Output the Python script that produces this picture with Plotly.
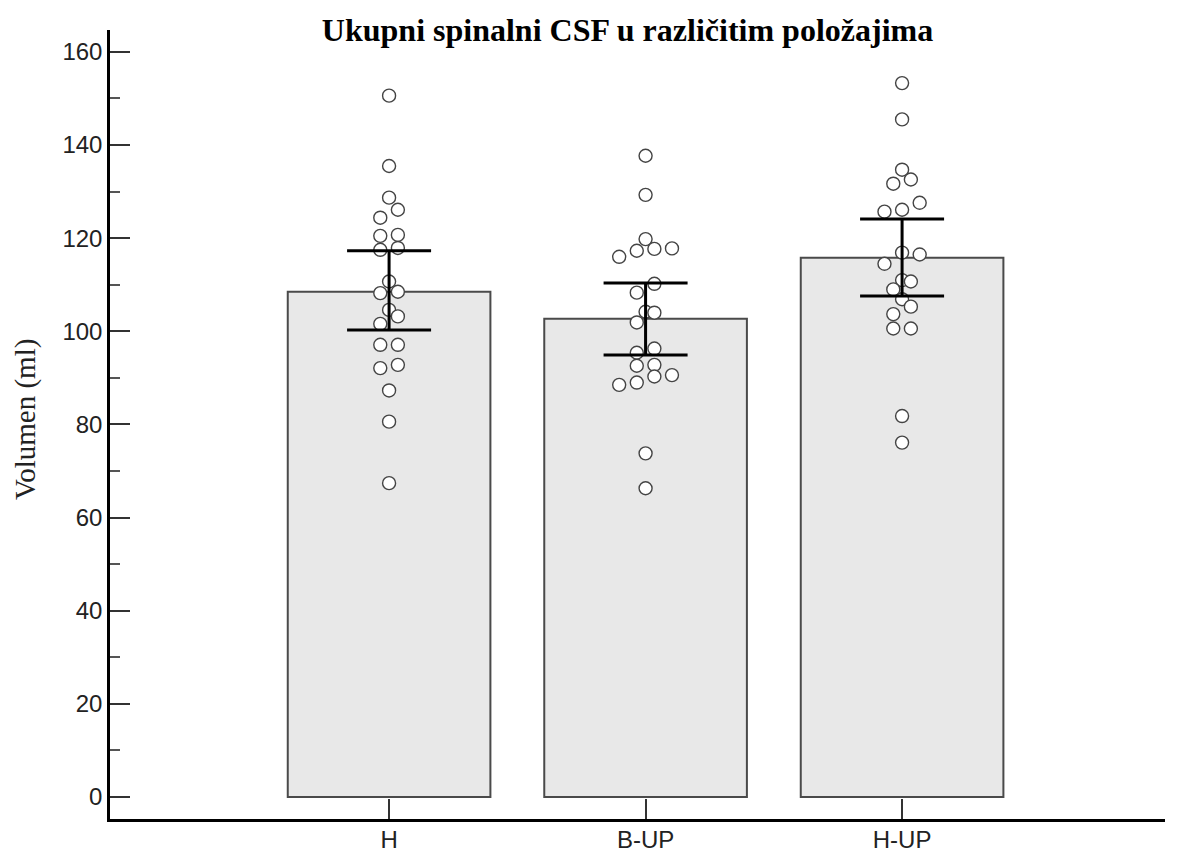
import plotly.graph_objects as go

# ---- data ----
categories = ["H", "B-UP", "H-UP"]
means = [108.5, 102.7, 115.8]
ci_upper = [117.3, 110.4, 124.1]
ci_lower = [100.3, 94.9, 107.6]

h_values = [150.6, 135.5, 128.7, 126.1, 124.4, 120.5, 120.7, 117.5, 117.9, 110.7, 108.2,
            108.5, 104.6, 103.2, 101.6, 97.1, 97.1, 92.1, 92.8, 87.3, 80.6, 67.4]
h_slots = [0, 0, 0, 1, -1, -1, 1, -1, 1, 0, -1, 1, 0, 1, -1, -1, 1, -1, 1, 0, 0, 0]

bup_values = [137.7, 129.3, 119.8, 117.3, 117.7, 117.8, 116.0, 110.2, 108.3, 104.2, 104.0,
              101.9, 96.3, 95.4, 92.6, 92.8, 90.3, 90.6, 89.0, 88.5, 73.8, 66.3]
bup_slots = [0, 0, 0, -1, 1, 3, -3, 1, -1, 0, 1, -1, 1, -1, -1, 1, 1, 3, -1, -3, 0, 0]

hup_values = [153.3, 145.5, 134.7, 131.7, 132.6, 127.6, 125.7, 126.1, 116.9, 116.5, 114.5,
              111.0, 110.7, 109.0, 106.9, 105.3, 103.7, 100.6, 100.6, 81.8, 76.1]
hup_slots = [0, 0, 0, -1, 1, 2, -2, 0, 0, 2, -2, 0, 1, -1, 0, 1, -1, -1, 1, 0, 0]

groups = [(h_values, h_slots), (bup_values, bup_slots), (hup_values, hup_slots)]

SLOT = 8.8 / 256.5  # horizontal swarm step in category units
OFF = 8  # page body margin
W, H = 1178 - OFF, 856 - OFF

fig = go.Figure()

fig.add_trace(go.Bar(
    x=list(range(len(categories))), y=means, width=0.79,
    marker=dict(color="#e8e8e8", line=dict(color="#4a4a4a", width=2)),
    showlegend=False, hoverinfo="skip",
))

for i, (vals, slots) in enumerate(groups):
    fig.add_trace(go.Scatter(
        x=[i + s * SLOT for s in slots], y=vals, mode="markers",
        marker=dict(size=13, color="white", line=dict(color="#444", width=1.4)),
        showlegend=False,
    ))

fig.add_trace(go.Scatter(
    x=list(range(len(categories))), y=means, mode="markers",
    marker=dict(color="rgba(0,0,0,0)", size=2),
    error_y=dict(type="data", symmetric=False,
                 array=[u - m for u, m in zip(ci_upper, means)],
                 arrayminus=[m - l for m, l in zip(means, ci_lower)],
                 color="black", thickness=3, width=42),
    showlegend=False,
))

fig.update_layout(
    width=W, height=H,
    margin=dict(l=110 - OFF, r=13, t=30 - OFF, b=H - (819 - OFF), autoexpand=False),
    paper_bgcolor="white", plot_bgcolor="white",
    title=dict(text="<b>Ukupni spinalni CSF u različitim položajima</b>",
               x=(627.5 - OFF) / W, xanchor="center",
               y=1 - (30 - OFF) / H, yanchor="middle",
               font=dict(family="Liberation Serif", size=32, color="black")),
    font=dict(family="Liberation Sans", size=24, color="#222"),
)

fig.update_xaxes(
    range=[-1.088, 3.025], tickvals=list(range(len(categories))), ticktext=categories,
    showline=True, linecolor="black", linewidth=2.5, showgrid=False, zeroline=False,
    ticks="inside", ticklen=20, tickwidth=2, tickcolor="#333", automargin=False,
    ticklabelstandoff=-3,
    tickfont=dict(family="Liberation Sans", size=24, color="#222"),
)
fig.update_yaxes(
    range=[-4.72, 164.7], dtick=20, tick0=0, automargin=False,
    showline=True, linecolor="black", linewidth=2.5, showgrid=False, zeroline=False,
    ticks="inside", ticklen=20, tickwidth=2, tickcolor="#333",
    minor=dict(dtick=10, ticks="inside", ticklen=10, tickwidth=1.5, tickcolor="#555"),
    tickfont=dict(family="Liberation Sans", size=24, color="#222"),
)

fig.add_annotation(
    text="Volumen (ml)", xref="paper", yref="paper",
    x=(25 - 110) / 1055, y=(819 - 420) / 789, textangle=-90,
    showarrow=False, xanchor="center", yanchor="middle",
    font=dict(family="Liberation Serif", size=29, color="#222"),
)

fig.write_html("out.html")
